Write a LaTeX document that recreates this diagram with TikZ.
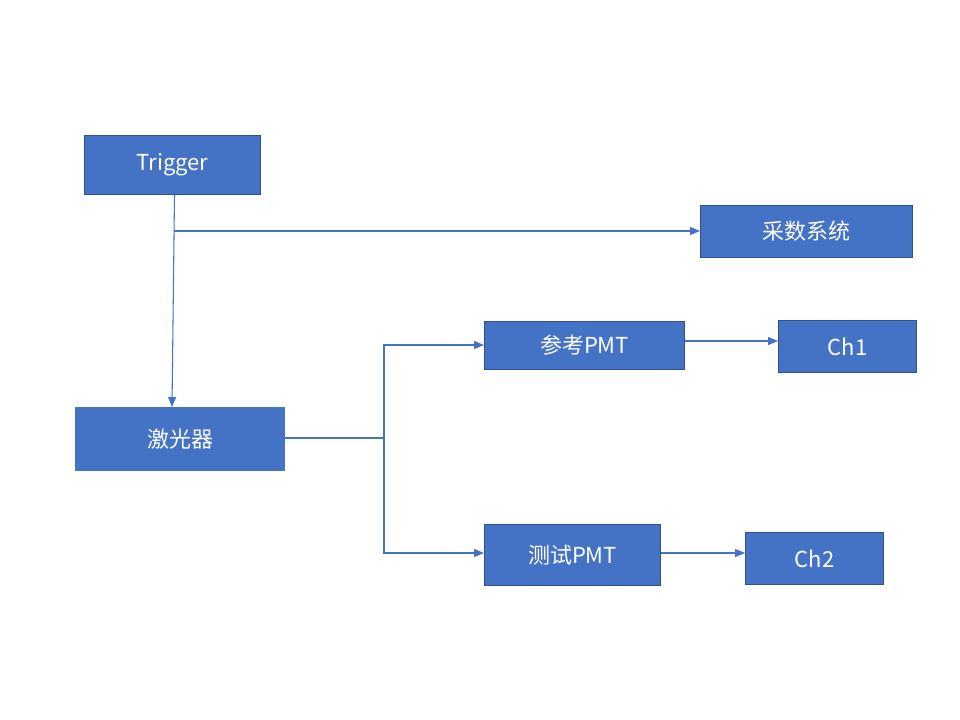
\documentclass[tikz,border=0pt]{standalone}
\usepackage{fontspec}
\setmainfont{Noto Sans CJK SC}
\usetikzlibrary{arrows.meta,calc}
\definecolor{boxfill}{HTML}{4472C4}
\definecolor{boxedge}{HTML}{2F528F}
\definecolor{linec}{HTML}{4472C4}
\begin{document}
\begin{tikzpicture}[x=0.75pt,y=-0.75pt,
  blk/.style={draw=boxedge,line width=0.75pt,fill=boxfill,text=white,font=\fontsize{16.5}{19}\selectfont,inner sep=0pt,anchor=north west},
  conn/.style={draw=linec,line width=0.8pt},
  arr/.style={conn,-{Triangle[length=7.5pt,width=6pt]}}]
\useasboundingbox (0,0) rectangle (960,720);
\node[blk,minimum width=176*0.75pt,minimum height=59*0.75pt] (trig) at (84,135) {Trigger};
\node[blk,minimum width=212*0.75pt,minimum height=52*0.75pt] (daq) at (700,205) {采数系统};
\node[blk,minimum width=200*0.75pt,minimum height=48*0.75pt] (ref) at (484,321) {参考PMT};
\node[blk,minimum width=138*0.75pt,minimum height=52*0.75pt] (ch1) at (778,320) {Ch1};
\node[blk,draw=boxfill,minimum width=209*0.75pt,minimum height=63*0.75pt] (laser) at (75,407) {激光器};
\node[blk,minimum width=176*0.75pt,minimum height=61*0.75pt] (test) at (484,524) {测试PMT};
\node[blk,minimum width=138*0.75pt,minimum height=52*0.75pt] (ch2) at (745,532) {Ch2};
\coordinate (j) at (174,231);
\coordinate (s) at (384,438);
\draw[arr] ($(trig.south)+(2,0)$) -- (laser.north -| 172,0);
\draw[arr] (j) -- (daq.west |- j);
\draw[conn] (laser.east |- s) -- (s);
\draw[arr] (s) |- (ref.west |- 0,345);
\draw[arr] (s) |- (test.west |- 0,553);
\draw[arr] (ref.east |- 0,341) -- (ch1.west |- 0,341);
\draw[arr] (test.east |- 0,553) -- (ch2.west |- 0,553);
\end{tikzpicture}
\end{document}
